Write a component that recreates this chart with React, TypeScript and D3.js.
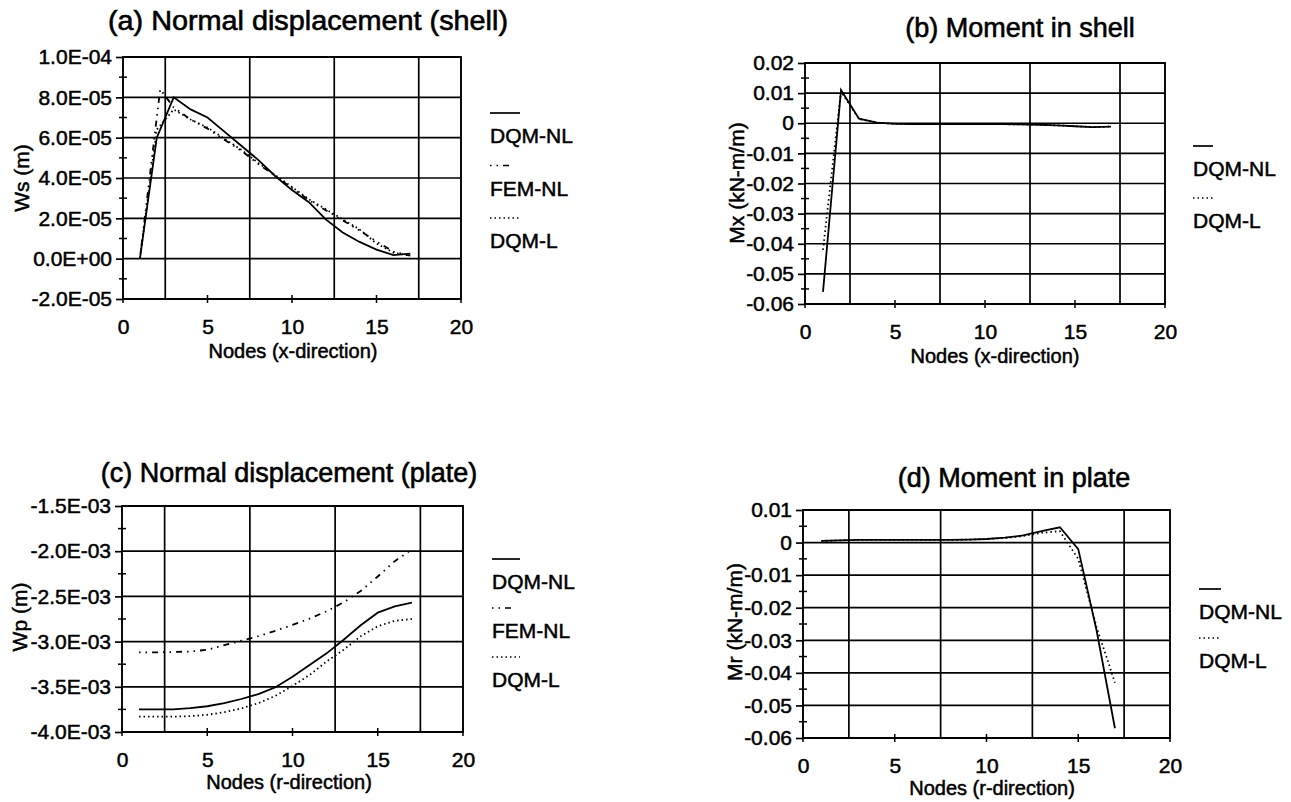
import React, { Component } from "react";
import * as d3 from "d3";

const FONT = "'Liberation Sans', Arial, Helvetica, sans-serif";

// node numbers
const nodes = [1, 2, 3, 4, 5, 6, 7, 8, 9, 10, 11, 12, 13, 14, 15, 16, 17];
const femNodesShell = [1, 2.2, 3, 4, 5, 6, 7, 8, 9, 10, 11, 12, 13, 14, 15, 16, 17];

// axis ticks
const xTicks = [0, 5, 10, 15, 20];
const xGrid = [2.5, 7.5, 12.5, 17.5];
const wsTicks = [-2e-5, 0, 2e-5, 4e-5, 6e-5, 8e-5, 1e-4];
const mxTicks = [-0.06, -0.05, -0.04, -0.03, -0.02, -0.01, 0, 0.01, 0.02];
const wpTicks = [-4e-3, -3.5e-3, -3e-3, -2.5e-3, -2e-3, -1.5e-3];
const mrTicks = [-0.06, -0.05, -0.04, -0.03, -0.02, -0.01, 0, 0.01];

// (a) normal displacement in shell (m)
const wsDqmNL = [0, 6.0e-5, 8.0e-5, 7.4e-5, 7.0e-5, 6.3e-5, 5.6e-5, 4.9e-5, 4.1e-5, 3.4e-5, 2.8e-5, 1.95e-5, 1.3e-5, 8.3e-6, 4.5e-6, 1.8e-6, 2.5e-6];
const wsFemNL = [0, 8.4e-5, 7.5e-5, 6.9e-5, 6.45e-5, 5.9e-5, 5.35e-5, 4.7e-5, 4.1e-5, 3.5e-5, 2.9e-5, 2.4e-5, 1.9e-5, 1.4e-5, 8.5e-6, 3.5e-6, 1.5e-6];
const wsDqmL = [0, 6.4e-5, 7.4e-5, 6.9e-5, 6.5e-5, 5.95e-5, 5.4e-5, 4.75e-5, 4.15e-5, 3.55e-5, 2.95e-5, 2.45e-5, 1.95e-5, 1.45e-5, 7.5e-6, 3e-6, 1.5e-6];

// (b) moment in shell (kN-m/m)
const mxDqmNL = [-0.056, 0.011, 0.0015, 0.0002, -0.0002, -0.0003, -0.0003, -0.0003, -0.0003, -0.0003, -0.0003, -0.0004, -0.0005, -0.0007, -0.001, -0.0013, -0.0011];
const mxDqmL = [-0.042, 0.0105, 0.0014, 0.0002, -0.0002, -0.0003, -0.0003, -0.0003, -0.0003, -0.0003, -0.0003, -0.0004, -0.0005, -0.0007, -0.001, -0.0013, -0.0011];

// (c) normal displacement in plate (m)
const wpDqmNL = [-3.75e-3, -3.75e-3, -3.75e-3, -3.735e-3, -3.715e-3, -3.68e-3, -3.635e-3, -3.58e-3, -3.505e-3, -3.39e-3, -3.26e-3, -3.13e-3, -2.98e-3, -2.82e-3, -2.68e-3, -2.61e-3, -2.57e-3];
const wpFemNL = [-3.12e-3, -3.12e-3, -3.115e-3, -3.11e-3, -3.09e-3, -3.04e-3, -2.99e-3, -2.94e-3, -2.88e-3, -2.815e-3, -2.745e-3, -2.665e-3, -2.565e-3, -2.44e-3, -2.28e-3, -2.11e-3, -1.98e-3];
const wpDqmL = [-3.83e-3, -3.83e-3, -3.83e-3, -3.825e-3, -3.81e-3, -3.78e-3, -3.74e-3, -3.68e-3, -3.6e-3, -3.49e-3, -3.37e-3, -3.22e-3, -3.09e-3, -2.94e-3, -2.83e-3, -2.77e-3, -2.75e-3];

// (d) moment in plate (kN-m/m)
const mrDqmNL = [0.0005, 0.0007, 0.0008, 0.0008, 0.0008, 0.0008, 0.0008, 0.0008, 0.0009, 0.0011, 0.0015, 0.0022, 0.0035, 0.0047, -0.002, -0.027, -0.057];
const mrDqmL = [0.0005, 0.0007, 0.0008, 0.0008, 0.0008, 0.0008, 0.0008, 0.0008, 0.0009, 0.0011, 0.0014, 0.002, 0.003, 0.0035, -0.005, -0.026, -0.043];

const sci = (v: number) => {
  if (v === 0) return "0.0E+00";
  const e = Math.floor(Math.log10(Math.abs(v)) + 1e-9);
  const m = v / Math.pow(10, e);
  return `${m.toFixed(1)}E${e < 0 ? "-" : "+"}${String(Math.abs(e)).padStart(2, "0")}`;
};
const dec = (v: number) => (Math.abs(v) < 1e-12 ? "0" : v.toFixed(2));

const styles: any = {
  "DQM-NL": { dash: null },
  "FEM-NL": { dash: "1.5,5,1.5,5,6,5" },
  "DQM-L": { dash: "1.5,3" },
};

const panels = [
  {
    box: { l: 123, r: 461, t: 57, b: 299 }, yDomain: [-2e-5, 1e-4], yTicks: wsTicks, fmt: sci,
    title: "(a) Normal displacement (shell)", titleX: 308, titleY: 30, titleLen: 400,
    xTitle: "Nodes (x-direction)", xTitleX: 293, xTitleY: 358,
    yTitle: "Ws (m)", yTitleX: 22, yTitleY: 178,
    legend: { x: 490, y: 113, step: 52.5, legendLen: 30 },
    series: [
      { name: "DQM-NL", x: nodes, y: wsDqmNL },
      { name: "FEM-NL", x: femNodesShell, y: wsFemNL },
      { name: "DQM-L", x: nodes, y: wsDqmL },
    ],
  },
  {
    box: { l: 805, r: 1165, t: 63, b: 304 }, yDomain: [-0.06, 0.02], yTicks: mxTicks, fmt: dec,
    title: "(b) Moment in shell", titleX: 1020, titleY: 37, titleLen: null,
    xTitle: "Nodes (x-direction)", xTitleX: 995, xTitleY: 363,
    yTitle: "Mx (kN-m/m)", yTitleX: 737, yTitleY: 183,
    legend: { x: 1193, y: 146, step: 52, legendLen: 20 },
    series: [
      { name: "DQM-NL", x: nodes, y: mxDqmNL },
      { name: "DQM-L", x: nodes, y: mxDqmL },
    ],
  },
  {
    box: { l: 122, r: 463, t: 506, b: 732 }, yDomain: [-4e-3, -1.5e-3], yTicks: wpTicks, fmt: sci,
    title: "(c) Normal displacement (plate)", titleX: 289, titleY: 482, titleLen: null,
    xTitle: "Nodes (r-direction)", xTitleX: 289, xTitleY: 789,
    yTitle: "Wp (m)", yTitleX: 20, yTitleY: 617,
    legend: { x: 492, y: 559, step: 49, legendLen: 28 },
    series: [
      { name: "DQM-NL", x: nodes, y: wpDqmNL },
      { name: "FEM-NL", x: nodes, y: wpFemNL },
      { name: "DQM-L", x: nodes, y: wpDqmL },
    ],
  },
  {
    box: { l: 803, r: 1170, t: 510, b: 738 }, yDomain: [-0.06, 0.01], yTicks: mrTicks, fmt: dec,
    title: "(d) Moment in plate", titleX: 1014, titleY: 487, titleLen: null,
    xTitle: "Nodes (r-direction)", xTitleX: 992, xTitleY: 795,
    yTitle: "Mr (kN-m/m)", yTitleX: 735, yTitleY: 622,
    legend: { x: 1199, y: 589, step: 49, legendLen: 22 },
    series: [
      { name: "DQM-NL", x: nodes, y: mrDqmNL },
      { name: "DQM-L", x: nodes, y: mrDqmL },
    ],
  },
];

// scanned print looks heavy, thicken glyphs a bit
const heavy = (sel: any, w: number) => sel.attr("stroke", "#000").attr("stroke-width", w).attr("fill", "#000");

class App extends Component {
  svgRef = React.createRef<SVGSVGElement>();

  componentDidMount() {
    const svg = d3.select(this.svgRef.current);
    svg.selectAll("*").remove();
    panels.forEach((p) => this.drawPanel(svg, p));
  }

  drawPanel(svg: any, p: any) {
    const { l, r, t, b } = p.box;
    const x = d3.scaleLinear().domain([0, 20]).range([l, r]);
    const y = d3.scaleLinear().domain(p.yDomain).range([b, t]);
    const g = svg.append("g");

    // grid lines
    g.selectAll(".hgrid").data(p.yTicks).join("line").attr("class", "hgrid")
      .attr("x1", l).attr("x2", r).attr("y1", (d: number) => y(d)).attr("y2", (d: number) => y(d))
      .attr("stroke", "#000").attr("stroke-width", 1.7);
    g.selectAll(".vgrid").data(xGrid).join("line").attr("class", "vgrid")
      .attr("x1", (d: number) => x(d)).attr("x2", (d: number) => x(d)).attr("y1", t).attr("y2", b)
      .attr("stroke", "#000").attr("stroke-width", 1.7);
    g.append("rect").attr("x", l).attr("y", t).attr("width", r - l).attr("height", b - t)
      .attr("fill", "none").attr("stroke", "#000").attr("stroke-width", 1.9);

    // y axis with minor crosses
    const ya = g.append("g").attr("transform", `translate(${l},0)`)
      .call(d3.axisLeft(y).tickValues(p.yTicks).tickFormat(p.fmt).tickSize(7).tickPadding(4));
    ya.select(".domain").remove();
    ya.attr("font-size", 21).attr("font-family", FONT);
    ya.selectAll("line").attr("stroke-width", 1.7);
    heavy(ya.selectAll("text"), 0.5);
    const minor = p.yTicks.slice(1).map((d: number, i: number) => (d + p.yTicks[i]) / 2);
    g.selectAll(".minor").data(minor).join("line").attr("class", "minor")
      .attr("x1", l - 4).attr("x2", l + 4).attr("y1", (d: number) => y(d)).attr("y2", (d: number) => y(d))
      .attr("stroke", "#000").attr("stroke-width", 1.5);

    // x axis
    const xa = g.append("g").attr("transform", `translate(0,${b})`)
      .call(d3.axisBottom(x).tickValues(xTicks).tickSize(0).tickPadding(20));
    xa.select(".domain").remove();
    xa.attr("font-size", 21).attr("font-family", FONT);
    heavy(xa.selectAll("text"), 0.5);
    g.selectAll(".xcross").data(xTicks).join("line").attr("class", "xcross")
      .attr("x1", (d: number) => x(d)).attr("x2", (d: number) => x(d)).attr("y1", b - 4).attr("y2", b + 4)
      .attr("stroke", "#000").attr("stroke-width", 1.5);

    // series
    const line = d3.line<[number, number]>().x((d) => x(d[0])).y((d) => y(d[1]));
    p.series.forEach((s: any) => {
      const pts = s.x.map((xv: number, i: number) => [xv, s.y[i]] as [number, number]);
      g.append("path").attr("d", line(pts)).attr("fill", "none").attr("stroke", "#000")
        .attr("stroke-width", 1.8).attr("stroke-dasharray", styles[s.name].dash);
    });

    // texts
    const title = g.append("text").attr("x", p.titleX).attr("y", p.titleY).attr("text-anchor", "middle")
      .attr("font-size", 27).attr("font-family", FONT).text(p.title);
    if (p.titleLen) title.attr("textLength", p.titleLen).attr("lengthAdjust", "spacingAndGlyphs");
    heavy(title, 0.6);
    heavy(g.append("text").attr("x", p.xTitleX).attr("y", p.xTitleY).attr("text-anchor", "middle")
      .attr("font-size", 20).attr("font-family", FONT).text(p.xTitle), 0.5);
    heavy(g.append("text").attr("transform", `translate(${p.yTitleX},${p.yTitleY}) rotate(-90)`)
      .attr("text-anchor", "middle").attr("dy", "0.35em")
      .attr("font-size", 21).attr("font-family", FONT).text(p.yTitle), 0.5);

    // legend
    p.series.forEach((s: any, i: number) => {
      const ly = p.legend.y + i * p.legend.step;
      const len = s.name === "FEM-NL" ? p.legend.legendLen * 0.8 : p.legend.legendLen;
      g.append("line").attr("x1", p.legend.x).attr("x2", p.legend.x + len).attr("y1", ly).attr("y2", ly)
        .attr("stroke", "#000").attr("stroke-width", 1.7).attr("stroke-dasharray", styles[s.name].dash);
      heavy(g.append("text").attr("x", p.legend.x).attr("y", ly + 30)
        .attr("font-size", 21).attr("font-family", FONT).text(s.name), 0.5);
    });
  }

  render() {
    return (
      <svg ref={this.svgRef} width={1291} height={802}
        style={{ position: "absolute", left: 0, top: 0, background: "#fff" }} />
    );
  }
}

export default App;
